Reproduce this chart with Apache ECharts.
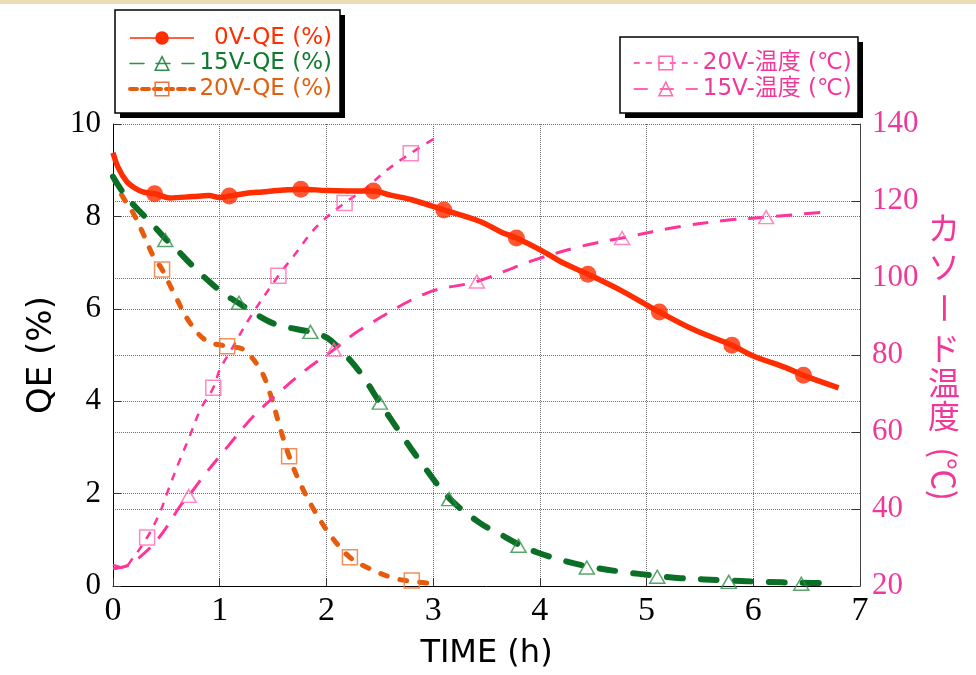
<!DOCTYPE html>
<html>
<head>
<meta charset="utf-8">
<title>QE and cathode temperature vs time</title>
<script src="https://cdn.jsdelivr.net/npm/echarts@6/dist/echarts.min.js"></script>
<style>
  html, body { margin: 0; padding: 0; background: #ffffff; }
  #chart { width: 976px; height: 675px; }
</style>
</head>
<body>
<div id="chart"></div>
<script>
// ---- axis ticks ----
const timeTicks = [0, 1, 2, 3, 4, 5, 6, 7];
const qeTicks = [0, 2, 4, 6, 8, 10];
const tempTicks = [20, 40, 60, 80, 100, 120, 140];

// ---- 0 V : quantum efficiency (%) ----
const qe0vCurve = [
  [0, 9.38], [0.05, 9.05], [0.13, 8.75], [0.2, 8.62], [0.28, 8.53], [0.39, 8.49],
  [0.53, 8.40], [0.75, 8.43], [0.9, 8.45], [1.0, 8.41], [1.09, 8.44], [1.25, 8.50],
  [1.4, 8.53], [1.6, 8.57], [1.76, 8.59], [2.0, 8.56], [2.2, 8.55], [2.44, 8.55],
  [2.6, 8.46], [2.8, 8.36], [3.1, 8.14], [3.44, 7.89], [3.63, 7.67], [3.78, 7.53],
  [4.0, 7.28], [4.22, 6.99], [4.45, 6.75], [4.75, 6.41], [5.12, 5.93], [5.44, 5.55],
  [5.8, 5.21], [6.0, 4.98], [6.31, 4.72], [6.47, 4.56], [6.8, 4.29]
];
const qe0vMarks = [
  [0.39, 8.49], [1.09, 8.44], [1.76, 8.59], [2.44, 8.55], [3.1, 8.14],
  [3.78, 7.53], [4.45, 6.75], [5.12, 5.93], [5.8, 5.21], [6.47, 4.56]
];

// ---- 15 V : quantum efficiency (%) ----
const qe15vCurve = [
  [0, 8.86], [0.1, 8.50], [0.22, 8.18], [0.36, 7.85], [0.49, 7.52], [0.57, 7.35],
  [0.78, 6.85], [1.03, 6.34], [1.18, 6.12], [1.32, 5.91], [1.53, 5.66], [1.85, 5.50],
  [2.0, 5.38], [2.13, 5.12], [2.32, 4.61], [2.5, 3.97], [2.69, 3.32], [2.91, 2.60],
  [3.15, 1.90], [3.44, 1.36], [3.63, 1.12], [3.8, 0.90], [3.97, 0.73], [4.22, 0.55],
  [4.44, 0.43], [4.76, 0.31], [5.1, 0.22], [5.32, 0.17], [5.77, 0.12], [6.1, 0.09],
  [6.45, 0.07], [6.74, 0.06]
];
const qe15vMarks = [
  [0.49, 7.49], [1.18, 6.13], [1.85, 5.50], [2.5, 3.97], [3.15, 1.88],
  [3.8, 0.87], [4.44, 0.40], [5.1, 0.20], [5.77, 0.09], [6.45, 0.05]
];

// ---- 20 V : quantum efficiency (%) ----
const qe20vCurve = [
  [0, 8.86], [0.08, 8.47], [0.19, 8.07], [0.28, 7.64], [0.38, 7.13], [0.46, 6.85],
  [0.57, 6.34], [0.72, 5.70], [0.88, 5.30], [1.07, 5.19], [1.22, 5.12], [1.38, 4.69],
  [1.47, 4.18], [1.57, 3.39], [1.65, 2.81], [1.75, 2.24], [1.88, 1.66], [2.04, 1.09],
  [2.22, 0.62], [2.41, 0.37], [2.63, 0.17], [2.80, 0.10], [3.05, 0.04]
];
const qe20vMarks = [
  [0.46, 6.85], [1.07, 5.19], [1.65, 2.81], [2.22, 0.62], [2.80, 0.12]
];

// ---- 20 V : cathode temperature (°C) ----
const temp20vCurve = [
  [0, 25.5], [0.1, 24.8], [0.18, 27.0], [0.32, 32.6], [0.44, 39.1], [0.52, 45.1],
  [0.61, 51.6], [0.72, 59.0], [0.82, 65.9], [0.94, 71.5], [1.0, 76.2], [1.10, 81.0],
  [1.29, 90.0], [1.55, 100.6], [1.69, 105.6], [1.91, 113.4], [2.17, 119.5],
  [2.35, 122.9], [2.57, 128.1], [2.79, 132.4], [3.04, 136.7]
];
const temp20vMarks = [
  [0.32, 32.6], [0.94, 71.5], [1.55, 100.6], [2.17, 119.5], [2.79, 132.4]
];

// ---- 15 V : cathode temperature (°C) ----
const temp15vCurve = [
  [0, 24.5], [0.15, 25.5], [0.30, 28.7], [0.42, 32.2], [0.52, 36.0], [0.63, 40.8],
  [0.71, 43.4], [0.85, 48.6], [1.08, 56.4], [1.32, 64.2], [1.57, 70.6], [1.81, 76.2],
  [2.07, 81.4], [2.32, 86.6], [2.94, 96.1], [3.41, 99.1], [3.91, 104.3], [4.38, 108.2],
  [4.77, 110.4], [5.32, 113.4], [5.79, 115.1], [6.12, 115.8], [6.73, 117.3]
];
const temp15vMarks = [
  [0.71, 43.4], [2.07, 81.4], [3.41, 99.1], [4.77, 110.4], [6.12, 115.8]
];

// ---- colours ----
const RED = '#ff2d00';
const GREEN = '#0b7026';
const GREEN_MARK = '#2f8f48';
const ORANGE = '#e65c0c';
const ORANGE_MARK = '#ec7434';
const PINK = '#ff3399';
const PINK_MARK = '#ff6ab4';
const PINK_TEXT = '#f0379a';

const SERIF = "'Liberation Serif', 'Times New Roman', serif";
const SANS = "'DejaVu Sans', Verdana, sans-serif";
const CJK = "'DejaVu Sans', 'Noto Sans CJK JP', sans-serif";

const NAME_0V = '0V-QE (%)';
const NAME_15V = '15V-QE (%)';
const NAME_20V = '20V-QE (%)';
const NAME_T20 = '20V-温度 (℃)';
const NAME_T15 = '15V-温度 (℃)';

// a curve with no point symbols, carrying the marker look for its legend icon
function curveSeries(name, data, yAxisIndex, lineStyle, symbol, itemStyle) {
  return {
    name, type: 'line', data, yAxisIndex,
    smooth: 0.35, showSymbol: false, symbol, itemStyle,
    lineStyle, z: 2, silent: true
  };
}
function markSeries(name, data, yAxisIndex, symbol, symbolSize, itemStyle) {
  return {
    name, type: 'scatter', data, yAxisIndex,
    symbol, symbolSize, itemStyle, z: 3, silent: true
  };
}

const openStyle = c => ({ color: 'rgba(255,255,255,0)', borderColor: c, borderWidth: 1.5 });

const series = [
  curveSeries(NAME_20V, qe20vCurve, 0,
    { color: ORANGE, width: 5, type: [7, 13], cap: 'round' }, 'rect', openStyle(ORANGE_MARK)),
  curveSeries(NAME_15V, qe15vCurve, 0,
    { color: GREEN, width: 6, type: [16, 18], cap: 'round' }, 'triangle', openStyle(GREEN_MARK)),
  curveSeries(NAME_T20, temp20vCurve, 1,
    { color: PINK, width: 2.5, type: [8, 8] }, 'rect', openStyle(PINK_MARK)),
  curveSeries(NAME_T15, temp15vCurve, 1,
    { color: PINK, width: 3, type: [16, 12] }, 'triangle', openStyle(PINK_MARK)),
  curveSeries(NAME_0V, qe0vCurve, 0,
    { color: RED, width: 5.5, type: 'solid' }, 'circle', { color: RED }),
  markSeries(NAME_20V, qe20vMarks, 0, 'rect', 15, openStyle(ORANGE_MARK)),
  markSeries(NAME_15V, qe15vMarks, 0, 'triangle', [15, 13], openStyle(GREEN_MARK)),
  markSeries(NAME_T20, temp20vMarks, 1, 'rect', 15, openStyle(PINK_MARK)),
  markSeries(NAME_T15, temp15vMarks, 1, 'triangle', [15, 13], openStyle(PINK_MARK)),
  markSeries(NAME_0V, qe0vMarks, 0, 'circle', 17, { color: RED })
];

const splitDotted = { show: true, lineStyle: { color: '#707070', width: 1, type: [1, 1] } };

// right-hand axis title, written vertically
const vTitleFont = "32px 'Noto Sans CJK JP', sans-serif";
const vTitle = [
  { t: 'カ', y: 228, r: 0 }, { t: 'ソ', y: 267, r: 0 }, { t: 'ー', y: 308, r: -Math.PI / 2 },
  { t: 'ド', y: 348, r: 0 }, { t: '温', y: 383, r: 0 }, { t: '度', y: 416, r: 0 },
  { t: '(℃)', y: 474, r: -Math.PI / 2 }
].map(c => ({
  type: 'text', x: 944, y: c.y, rotation: c.r, z: 10,
  style: { text: c.t, font: vTitleFont, fill: PINK_TEXT, align: 'center', verticalAlign: 'middle' }
}));

const legendBox = (x, y, w, h) => [
  { type: 'rect', shape: { x: x + 5, y: y + 5, width: w, height: h }, style: { fill: '#000' }, z: 1 },
  { type: 'rect', shape: { x, y, width: w, height: h }, style: { fill: '#fff', stroke: '#000', lineWidth: 1.5 }, z: 1 }
];

const option = {
  animation: false,
  backgroundColor: '#ffffff',
  grid: { left: 113, right: 116, top: 124, bottom: 88, show: false },
  legend: [
    {
      left: 128, top: 26, padding: 0, orient: 'vertical', itemWidth: 64, itemHeight: 17, itemGap: 1.5,
      selectedMode: false, z: 5,
      formatter: n => '{t|' + n + '}',
      textStyle: {
        fontFamily: SANS, fontSize: 23, lineHeight: 24,
        rich: { t: { width: 133, align: 'right', fontFamily: SANS, fontSize: 23, lineHeight: 24 } }
      },
      data: [
        { name: NAME_0V, textStyle: { color: RED },
          lineStyle: { color: RED, width: 1.5, type: 'solid' }, itemStyle: { color: RED, borderWidth: 0 } },
        { name: NAME_15V, textStyle: { color: '#0f7a2e' },
          lineStyle: { color: GREEN_MARK, width: 1.5, type: [14, 12] },
          itemStyle: { color: 'rgba(255,255,255,0)', borderColor: GREEN_MARK, borderWidth: 1.5 } },
        { name: NAME_20V, textStyle: { color: '#e0600f' },
          lineStyle: { color: ORANGE, width: 4, type: [7, 5] },
          itemStyle: { color: 'rgba(255,255,255,0)', borderColor: ORANGE_MARK, borderWidth: 1.5 } }
      ]
    },
    {
      left: 633, top: 51, padding: 0, orient: 'vertical', itemWidth: 64, itemHeight: 17, itemGap: 2,
      selectedMode: false, z: 5,
      textStyle: { fontFamily: CJK, fontSize: 23, lineHeight: 24, color: PINK_TEXT },
      data: [
        { name: NAME_T20, lineStyle: { color: PINK, width: 1.5, type: [6, 6] },
          itemStyle: { color: 'rgba(255,255,255,0)', borderColor: PINK_MARK, borderWidth: 1.5 } },
        { name: NAME_T15, lineStyle: { color: PINK, width: 1.5, type: [14, 12] },
          itemStyle: { color: 'rgba(255,255,255,0)', borderColor: PINK_MARK, borderWidth: 1.5 } }
      ]
    }
  ],
  xAxis: {
    type: 'value', min: timeTicks[0], max: timeTicks[timeTicks.length - 1], interval: 1,
    name: 'TIME (h)', nameLocation: 'middle', nameGap: 52,
    nameTextStyle: { fontFamily: SANS, fontSize: 32, color: '#000' },
    axisLine: { show: true, lineStyle: { color: '#000', width: 1 } },
    axisTick: { show: true, inside: true, length: 8, lineStyle: { color: '#333' } },
    axisLabel: { fontFamily: SERIF, fontSize: 34, color: '#000', margin: 8 },
    splitLine: splitDotted
  },
  yAxis: [
    {
      type: 'value', min: qeTicks[0], max: qeTicks[qeTicks.length - 1], interval: 2,
      name: 'QE (%)', nameLocation: 'middle', nameGap: 53,
      nameTextStyle: { fontFamily: SANS, fontSize: 34, color: '#000' },
      axisLine: { show: true, lineStyle: { color: '#000', width: 1 } },
      axisTick: { show: true, inside: true, length: 8, lineStyle: { color: '#333' } },
      axisLabel: { fontFamily: SERIF, fontSize: 31, color: '#000', margin: 12 },
      splitLine: splitDotted
    },
    {
      type: 'value', min: tempTicks[0], max: tempTicks[tempTicks.length - 1], interval: 20,
      position: 'right',
      axisLine: { show: true, lineStyle: { color: '#444', width: 1 } },
      axisTick: { show: true, inside: true, length: 8, lineStyle: { color: '#333' } },
      axisLabel: { fontFamily: SERIF, fontSize: 31, color: PINK_TEXT, margin: 12 },
      splitLine: splitDotted
    }
  ],
  graphic: [
    { type: 'rect', shape: { x: 0, y: 0, width: 976, height: 4 },
      style: { fill: '#ecdcb6' }, z: 1 },
    ...legendBox(115, 10, 225, 103),
    ...legendBox(620, 37, 238, 76),
    ...vTitle
  ],
  series
};

const chart = echarts.init(document.getElementById('chart'), null, { renderer: 'canvas' });
chart.setOption(option);
</script>
</body>
</html>
